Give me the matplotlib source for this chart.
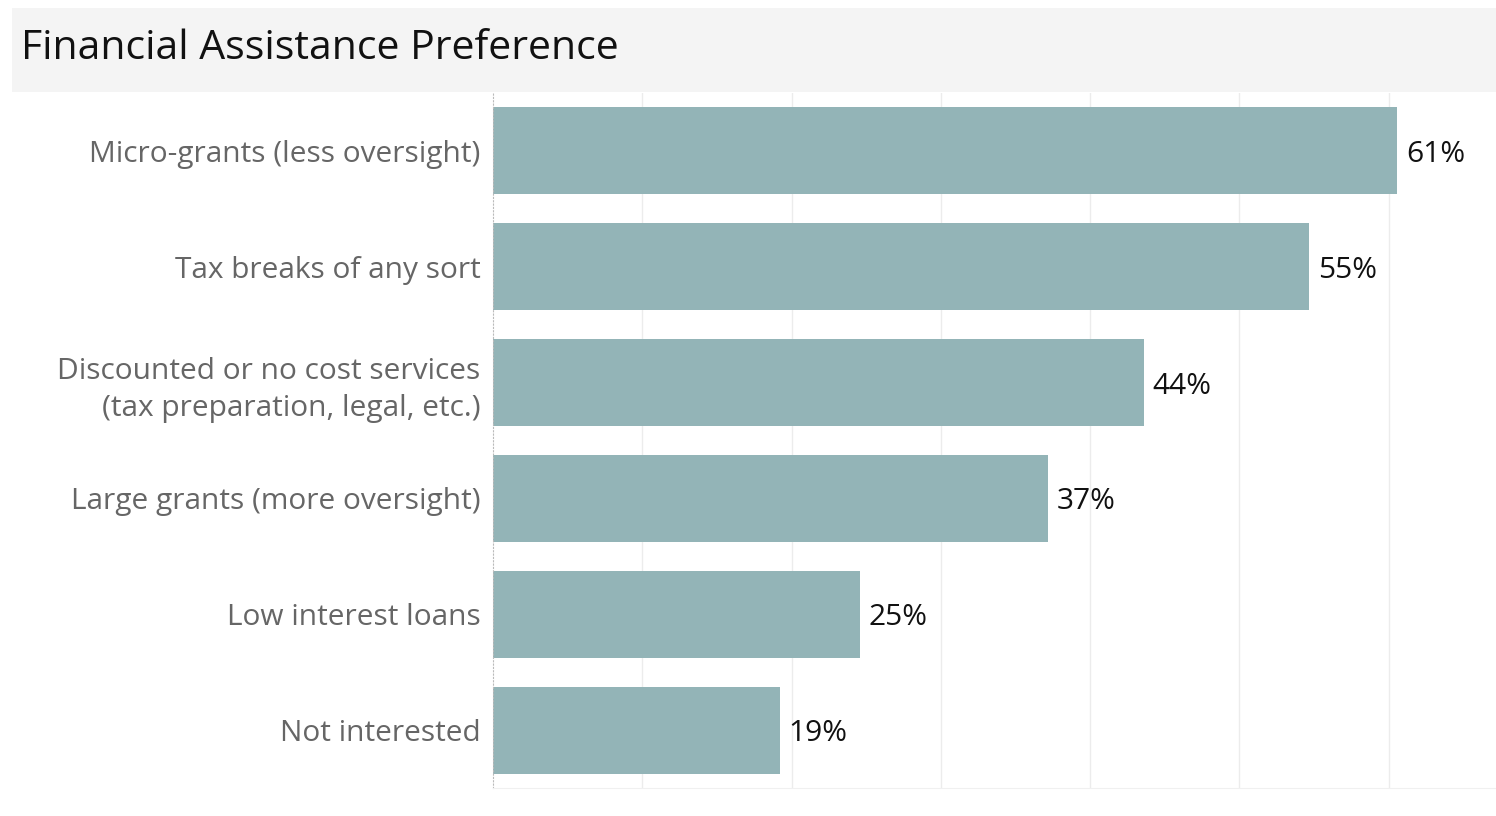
import numpy as np
import matplotlib.pyplot as plt
from matplotlib.patches import Rectangle

plt.rcParams['font.family'] = ['Open Sans', 'DejaVu Sans']

categories = ['Micro-grants (less oversight)',
              'Tax breaks of any sort',
              'Discounted or no cost services\n(tax preparation, legal, etc.)',
              'Large grants (more oversight)',
              'Low interest loans',
              'Not interested']
values = [60.6, 54.7, 43.6, 37.2, 24.6, 19.2]
value_labels = ['61%', '55%', '44%', '37%', '25%', '19%']

W, H = 1496, 816
fig = plt.figure(figsize=(W/100, H/100), dpi=100)

# title band
fig.patches.append(Rectangle((12/W, 1-92/H), (W-12)/W, 84/H, transform=fig.transFigure,
                             facecolor='#f4f4f4', edgecolor='none', zorder=0))
fig.text(21/W, 1-49/H, 'Financial Assistance Preference', fontsize=29.5,
         va='center', ha='left', color='#111111')

ax = fig.add_axes([493/W, 1-788/H, (W-493)/W, 695/H])
y = np.arange(len(categories))
ax.barh(y, values, height=0.75, color='#93b4b7', zorder=2)
ax.set_ylim(len(categories)-0.5, -0.5)
ax.set_xlim(0, 67.2)
ax.set_xticks(np.arange(10, 70, 10))
ax.set_xticklabels([])
ax.tick_params(axis='both', length=0)
ax.grid(axis='x', color='#ececec', linewidth=1, zorder=0)
ax.set_yticks(y)
ax.set_yticklabels(categories, fontsize=21.5, color='#666666', linespacing=1.35)
ax.tick_params(axis='y', pad=9)
for lbl in ax.get_yticklabels():
    lbl.set_multialignment('right')
    lbl.set_y(lbl.get_position()[1])

for s in ['top', 'right']:
    ax.spines[s].set_visible(False)
ax.spines['left'].set_color('#bbbbbb')
ax.spines['left'].set_linestyle((0, (1, 2)))
ax.spines['left'].set_linewidth(0.8)
ax.spines['bottom'].set_color('#f0f0f0')

for yi, v, t in zip(y, values, value_labels):
    ax.annotate(t, (v, yi), xytext=(6, -2.5), textcoords='offset points',
                va='center', ha='left', fontsize=21.5, color='#111111')

fig.savefig('out.png', dpi=100)
